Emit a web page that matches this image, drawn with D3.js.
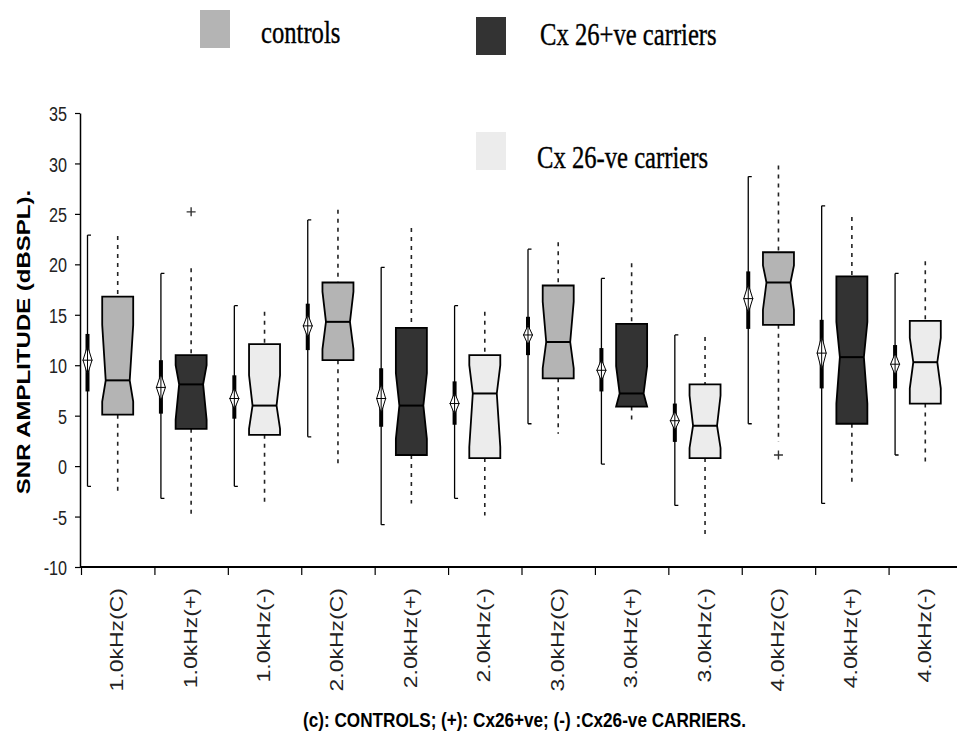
<!DOCTYPE html>
<html>
<head>
<meta charset="utf-8">
<script src="https://cdnjs.cloudflare.com/ajax/libs/d3/7.8.5/d3.min.js"></script>
<style>
  body { margin: 0; background: #fff; }
</style>
</head>
<body>
<svg id="chart" width="957" height="736"></svg>
<script>
var categories = ["1.0kHz(C)", "1.0kHz(+)", "1.0kHz(-)", "2.0kHz(C)", "2.0kHz(+)", "2.0kHz(-)",
  "3.0kHz(C)", "3.0kHz(+)", "3.0kHz(-)", "4.0kHz(C)", "4.0kHz(+)", "4.0kHz(-)"];
var groups = ["c", "+", "-", "c", "+", "-", "c", "+", "-", "c", "+", "-"];

// mean / confidence interval / range (solid whisker with diamond)
var means = [10.5, 7.8, 6.7, 13.9, 6.7, 6.2, 13.0, 9.5, 4.5, 16.6, 11.2, 10.1];
var ciLow = [7.4, 5.2, 4.7, 11.5, 3.9, 4.1, 11.0, 7.4, 2.4, 13.6, 7.7, 7.7];
var ciHigh = [13.1, 10.5, 9.0, 16.1, 9.7, 8.4, 14.8, 11.7, 6.2, 19.3, 14.5, 12.0];
var rangeLow = [-2.0, -3.2, -2.0, 2.9, -5.8, -3.2, 4.2, 0.2, -3.9, 4.2, -3.7, 1.1];
var rangeHigh = [22.9, 19.1, 15.9, 24.4, 19.7, 15.9, 21.5, 18.6, 13.0, 28.7, 25.8, 19.1];

// notched box plots (dotted whiskers)
var q1 = [5.1, 3.7, 3.1, 10.5, 1.1, 0.8, 8.7, 5.9, 0.8, 14.0, 4.2, 6.2];
var medians = [8.5, 8.1, 6.0, 14.3, 6.0, 7.2, 12.3, 7.2, 4.0, 18.2, 10.8, 10.3];
var q3 = [16.8, 11.0, 12.1, 18.2, 13.7, 11.0, 17.9, 14.1, 8.1, 21.2, 18.8, 14.4];
var notchLow = [6.4, 4.6, 3.7, 11.6, 2.7, 1.9, 9.7, 5.9, 1.8, 15.5, 6.2, 7.7];
var notchHigh = [14.0, 10.0, 9.0, 17.3, 9.2, 10.0, 16.3, 9.9, 7.0, 19.9, 14.3, 12.7];
var whiskerLow = [-2.9, -4.9, -3.7, 0.1, -3.7, -4.9, 3.2, 4.2, -6.8, 2.4, -1.7, 0.1];
var whiskerHigh = [22.8, 19.6, 15.3, 25.4, 23.6, 15.3, 22.2, 20.1, 12.8, 29.8, 24.7, 20.3];
var outlierIndex = [1, 9];
var outlierValue = [25.2, 1.1];

var yTicks = [-10, -5, 0, 5, 10, 15, 20, 25, 30, 35];
var legendLabels = ["controls", "Cx 26+ve carriers", "Cx 26-ve carriers"];
var legendGroups = ["c", "+", "-"];
var colors = { "c": "#b4b4b4", "+": "#333333", "-": "#ececec" };

var svg = d3.select("#chart");
svg.append("rect").attr("width", 957).attr("height", 736).attr("fill", "#fff");

var x = d3.scaleBand().domain(categories).range([81, 962]);
var bw = x.bandwidth();
var xi = d3.scaleLinear().domain([0, categories.length]).range([81, 962]);
var y = d3.scaleLinear().domain([-10, 35]).range([567, 113]);

var rows = categories.map(function (c, i) {
  return {
    cat: c, group: groups[i], mean: means[i], ciLow: ciLow[i], ciHigh: ciHigh[i],
    lo: rangeLow[i], hi: rangeHigh[i], q1: q1[i], med: medians[i], q3: q3[i],
    nLo: notchLow[i], nHi: notchHigh[i], wLo: whiskerLow[i], wHi: whiskerHigh[i]
  };
});

// y axis
var yAxis = svg.append("g")
  .attr("transform", "translate(80,0)")
  .call(d3.axisLeft(y).tickValues(yTicks).tickSize(5).tickSizeOuter(0)
    .tickFormat(function (d) { return String(d); }));
yAxis.select(".domain").attr("stroke-width", 1.5);
yAxis.selectAll(".tick line").attr("stroke-width", 1.2);
yAxis.selectAll(".tick text")
  .attr("x", 0).attr("dy", "0.36em")
  .attr("transform", "translate(-13,0) scale(0.77,1)")
  .attr("fill", "#222")
  .style("font-family", "'Liberation Sans', Arial, sans-serif")
  .style("font-size", "21px");

// x axis
var xAxis = svg.append("g")
  .attr("transform", "translate(0,567)")
  .call(d3.axisBottom(xi).tickValues(d3.range(categories.length)).tickSize(8).tickSizeOuter(0).tickFormat(""));
xAxis.select(".domain").attr("stroke-width", 2).attr("d", "M80,0H957");
xAxis.selectAll(".tick line").attr("stroke-width", 1.2);

svg.append("g").selectAll("text")
  .data(categories)
  .enter()
  .append("text")
  .attr("transform", function (d) {
    return "translate(" + (x(d) + bw / 2 + 5.5) + ",588) rotate(-90) scale(1,0.77)";
  })
  .attr("text-anchor", "end")
  .attr("fill", "#222")
  .style("font-family", "'Liberation Sans', Arial, sans-serif")
  .style("font-size", "23px")
  .text(function (d) { return d; });

// mean + CI + range markers
var marks = svg.append("g").selectAll("g")
  .data(rows)
  .enter()
  .append("g");

function sx(d) { return x(d.cat) + 6.5; }
function cx(d) { return x(d.cat) + bw / 2; }

marks.append("line")
  .attr("x1", sx).attr("x2", sx)
  .attr("y1", function (d) { return y(d.hi); })
  .attr("y2", function (d) { return y(d.lo); })
  .attr("stroke", "#000").attr("stroke-width", 1.3);

marks.append("path")
  .attr("d", function (d) {
    var a = sx(d);
    return "M" + (a + 3.5) + "," + y(d.hi) + "H" + a + "M" + (a + 3.5) + "," + y(d.lo) + "H" + a;
  })
  .attr("stroke", "#000").attr("stroke-width", 1.3).attr("fill", "none");

marks.append("rect")
  .attr("x", function (d) { return sx(d) - 2; })
  .attr("width", 4)
  .attr("y", function (d) { return y(d.ciHigh); })
  .attr("height", function (d) { return y(d.ciLow) - y(d.ciHigh); })
  .attr("fill", "#000");

marks.append("path")
  .attr("d", function (d) {
    var a = sx(d), m = y(d.mean), h = (y(d.ciLow) - y(d.ciHigh)) / 4;
    return "M" + a + "," + (m - h) + "L" + (a + 4.5) + "," + m + "L" + a + "," + (m + h) +
      "L" + (a - 4.5) + "," + m + "Z";
  })
  .attr("fill", "#fff").attr("stroke", "#000").attr("stroke-width", 1);

marks.append("path")
  .attr("d", function (d) {
    var a = sx(d), m = y(d.mean), h = (y(d.ciLow) - y(d.ciHigh)) / 4;
    return "M" + (a - 5) + "," + m + "H" + (a + 5) + "M" + a + "," + (m - h) + "V" + (m + h);
  })
  .attr("stroke", "#000").attr("stroke-width", 1).attr("fill", "none");

// dotted whiskers
marks.append("path")
  .attr("d", function (d) {
    var c = cx(d);
    return "M" + c + "," + y(d.wHi) + "V" + y(d.q3) + "M" + c + "," + y(d.q1) + "V" + y(d.wLo);
  })
  .attr("stroke", "#222").attr("stroke-width", 1.6).attr("stroke-dasharray", "4,5")
  .attr("fill", "none");

// notched boxes
marks.append("path")
  .attr("d", function (d) {
    var l = cx(d) - 15.5, r = cx(d) + 15.5, k = 3.5;
    return "M" + l + "," + y(d.q3) + "L" + r + "," + y(d.q3) +
      "L" + r + "," + y(d.nHi) + "L" + (r - k) + "," + y(d.med) + "L" + r + "," + y(d.nLo) +
      "L" + r + "," + y(d.q1) + "L" + l + "," + y(d.q1) +
      "L" + l + "," + y(d.nLo) + "L" + (l + k) + "," + y(d.med) + "L" + l + "," + y(d.nHi) + "Z";
  })
  .attr("fill", function (d) { return colors[d.group]; })
  .attr("stroke", "#000").attr("stroke-width", 1.8).attr("stroke-linejoin", "miter");

marks.append("line")
  .attr("x1", function (d) { return cx(d) - 12; })
  .attr("x2", function (d) { return cx(d) + 12; })
  .attr("y1", function (d) { return y(d.med); })
  .attr("y2", function (d) { return y(d.med); })
  .attr("stroke", "#000").attr("stroke-width", 2);

// outliers
svg.append("g").selectAll("path")
  .data(outlierIndex)
  .enter()
  .append("path")
  .attr("d", function (d, i) {
    var c = x(categories[d]) + bw / 2, v = y(outlierValue[i]);
    return "M" + (c - 4.5) + "," + v + "H" + (c + 4.5) + "M" + c + "," + (v - 4.5) + "V" + (v + 4.5);
  })
  .attr("stroke", "#333").attr("stroke-width", 1.4);

// legend
var legendPos = [[200, 10, 261, 43], [476, 17, 540, 45], [476, 132, 537, 168]];
var legend = svg.append("g").selectAll("g")
  .data(legendLabels)
  .enter()
  .append("g");
legend.append("rect")
  .attr("x", function (d, i) { return legendPos[i][0]; })
  .attr("y", function (d, i) { return legendPos[i][1]; })
  .attr("width", 30).attr("height", 38)
  .attr("fill", function (d, i) { return colors[legendGroups[i]]; });
legend.append("text")
  .attr("transform", function (d, i) {
    return "translate(" + legendPos[i][2] + "," + legendPos[i][3] + ") scale(0.77,1)";
  })
  .attr("fill", "#000")
  .attr("stroke", "#000").attr("stroke-width", 0.4)
  .style("font-family", "'Liberation Serif', 'Times New Roman', serif")
  .style("font-size", "32px")
  .text(function (d) { return d; });

// axis titles
svg.append("text")
  .attr("transform", "translate(30,342) rotate(-90) scale(1,0.77)")
  .attr("text-anchor", "middle")
  .style("font-family", "'Liberation Sans', Arial, sans-serif")
  .style("font-size", "24px").style("font-weight", "bold")
  .text("SNR AMPLITUDE (dBSPL).");

svg.append("text")
  .attr("x", 303).attr("y", 727)
  .attr("textLength", 443).attr("lengthAdjust", "spacingAndGlyphs")
  .style("font-family", "'Liberation Sans', Arial, sans-serif")
  .style("font-size", "21px").style("font-weight", "bold")
  .text("(c): CONTROLS;  (+): Cx26+ve;  (-) :Cx26-ve CARRIERS.");
</script>
</body>
</html>
